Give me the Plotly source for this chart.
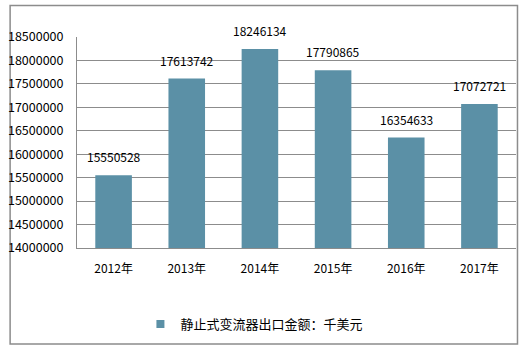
import plotly.graph_objects as go

years = ["2012年", "2013年", "2014年", "2015年", "2016年", "2017年"]
export_value = [15550528, 17613742, 18246134, 17790865, 16354633, 17072721]
series_name = "静止式变流器出口金额：千美元"

bar_color = "#5B90A6"
grid_color = "#8C8C8C"
font_family = "Microsoft YaHei, Noto Sans CJK SC, sans-serif"

fig = go.Figure()

fig.add_trace(go.Bar(
    x=years,
    y=export_value,
    marker=dict(color=bar_color, line=dict(width=0)),
    width=0.5,
    showlegend=False,
    hoverinfo="x+y",
))

# legend entry with a small square swatch
fig.add_trace(go.Scatter(
    x=[None], y=[None],
    mode="markers",
    marker=dict(symbol="square", size=8, color=bar_color),
    name=series_name,
    showlegend=True,
))

# value labels above each bar
for yr, v in zip(years, export_value):
    fig.add_annotation(
        x=yr, y=v, text=str(v),
        showarrow=False, yanchor="bottom", yshift=8,
        font=dict(size=12, color="#000000", family=font_family),
    )

# plot area in pixels: x 73..516, y 37..248
L, R, T, B = 73, 8, 37, 101
W, H = 524 - L - R, 349 - T - B

def px_x(px):
    return (px - L) / W

def px_y(py):
    return (349 - B - py) / H

# outer chart border
fig.add_shape(
    type="rect", xref="paper", yref="paper",
    x0=px_x(5.5), x1=px_x(517.5), y0=px_y(344), y1=px_y(5.5),
    line=dict(color="#8C8C8C", width=1.5), fillcolor="rgba(0,0,0,0)",
    layer="below",
)

fig.update_layout(
    width=524, height=349,
    margin=dict(l=L, r=R, t=T, b=B),
    paper_bgcolor="white", plot_bgcolor="white",
    font=dict(family=font_family, size=12, color="#000000"),
    bargap=0.5,
    legend=dict(
        orientation="h",
        x=px_x(137), xanchor="left",
        y=px_y(324), yanchor="middle",
        font=dict(size=13, family=font_family),
        itemwidth=30,
        bgcolor="rgba(0,0,0,0)",
    ),
    xaxis=dict(
        showgrid=False,
        showline=True, linecolor=grid_color, linewidth=1,
        ticks="", ticklabelstandoff=10,
        tickfont=dict(size=12),
    ),
    yaxis=dict(
        range=[14000000, 18500000],
        dtick=500000, tick0=14000000,
        tickformat="d",
        showgrid=True, gridcolor=grid_color, gridwidth=1,
        showline=True, linecolor=grid_color, linewidth=1,
        zeroline=False,
        ticks="", ticklabelstandoff=10,
        tickfont=dict(size=12.5),
    ),
)

fig.write_html("out.html")
